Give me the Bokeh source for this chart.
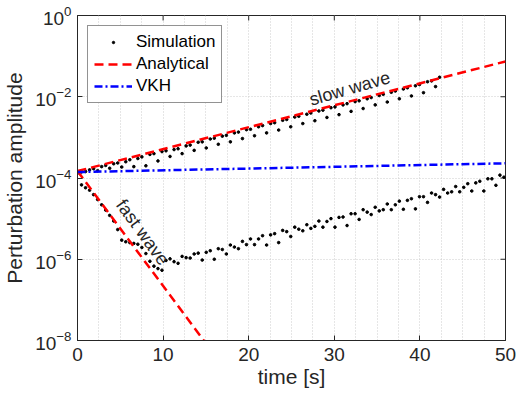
from bokeh.plotting import figure
from bokeh.models import Range1d, FixedTicker
from bokeh.core.properties import value
from bokeh.embed import file_html
from bokeh.resources import INLINE
import math

# ---------------- data ----------------
time_grid = [0.00, 0.47, 0.94, 1.41, 1.88, 2.35, 2.82, 3.29, 3.76, 4.23,
             4.70, 5.17, 5.64, 6.11, 6.58, 7.05, 7.52, 7.99, 8.46, 8.93,
             9.40, 9.87, 10.34, 10.81, 11.28, 11.75, 12.22, 12.69, 13.16, 13.63,
             14.10, 14.57, 15.04, 15.51, 15.98, 16.45, 16.92, 17.39, 17.86, 18.33,
             18.80, 19.27, 19.74, 20.21, 20.68, 21.15, 21.62, 22.09, 22.56, 23.03,
             23.50, 23.97, 24.44, 24.91, 25.38, 25.85, 26.32, 26.79, 27.26, 27.73,
             28.20, 28.67, 29.14, 29.61, 30.08, 30.55, 31.02, 31.49, 31.96, 32.43,
             32.90, 33.37, 33.84, 34.31, 34.78, 35.25, 35.72, 36.19, 36.66, 37.13,
             37.60, 38.07, 38.54, 39.01, 39.48, 39.95, 40.42, 40.89, 41.36, 41.83,
             42.30, 42.77, 43.24, 43.71, 44.18, 44.65, 45.12, 45.59, 46.06, 46.53,
             47.00, 47.47, 47.94, 48.41, 48.88, 49.35, 49.82]

# simulation, slow-wave branch (log10 of amplitude), first 91 times
sim_slow_exp = [-3.84, -3.85, -3.84, -3.80, -3.77, -3.82, -3.72, -3.69, -3.76, -3.65,
                -3.63, -3.73, -3.60, -3.55, -3.72, -3.52, -3.48, -3.70, -3.42, -3.40,
                -3.58, -3.35, -3.33, -3.47, -3.30, -3.28, -3.40, -3.21, -3.19, -3.32,
                -3.12, -3.11, -3.26, -3.04, -3.02, -3.17, -2.97, -2.95, -3.11, -2.89,
                -2.87, -3.03, -2.81, -2.80, -2.96, -2.74, -2.71, -2.89, -2.66, -2.64,
                -2.82, -2.58, -2.56, -2.74, -2.50, -2.48, -2.66, -2.43, -2.40, -2.59,
                -2.35, -2.33, -2.51, -2.27, -2.25, -2.44, -2.20, -2.17, -2.36, -2.12,
                -2.10, -2.29, -2.05, -2.02, -2.20, -1.97, -1.94, -2.13, -1.89, -1.86,
                -2.05, -1.81, -1.78, -1.98, -1.73, -1.70, -1.90, -1.63, -1.61, -1.75,
                -1.52]

# simulation, fast-wave branch (log10 of amplitude), all times
sim_fast_exp = [-3.88, -4.17, -4.24, -4.30, -4.41, -4.53, -4.66, -4.79, -4.92, -5.06,
                -5.27, -5.53, -5.57, -5.59, -5.61, -5.63, -5.71, -5.86, -6.05, -6.17,
                -6.23, -6.27, -6.03, -5.99, -6.06, -6.10, -5.93, -5.96, -5.97, -5.87,
                -5.85, -6.02, -5.83, -5.79, -6.00, -5.74, -5.76, -5.87, -5.65, -5.70,
                -5.74, -5.56, -5.64, -5.50, -5.64, -5.50, -5.42, -5.65, -5.40, -5.37,
                -5.59, -5.29, -5.32, -5.44, -5.21, -5.26, -5.30, -5.15, -5.24, -5.19,
                -5.06, -5.21, -5.07, -5.00, -5.21, -4.97, -4.96, -5.17, -4.88, -4.88,
                -5.02, -4.78, -4.84, -4.90, -4.72, -4.81, -4.78, -4.64, -4.78, -4.66,
                -4.57, -4.77, -4.55, -4.51, -4.76, -4.46, -4.46, -4.60, -4.37, -4.41,
                -4.47, -4.28, -4.37, -4.34, -4.21, -4.34, -4.23, -4.14, -4.32, -4.12,
                -4.08, -4.32, -4.02, -4.02, -4.18, -3.93, -3.98]

analytic_slow_t = [0, 50]
analytic_slow_y = [1.48e-4, 7.4e-2]
analytic_fast_t = [0, 15]
analytic_fast_y = [1.48e-4, 8.5e-9]
vkh_t = [0, 50]
vkh_y = [1.40e-4, 2.30e-4]

x_ticks = [0, 10, 20, 30, 40, 50]
x_minor = [2.5, 5, 7.5, 12.5, 15, 17.5, 22.5, 25, 27.5, 32.5, 35, 37.5, 42.5, 45, 47.5]
y_ticks = [1e-8, 1e-6, 1e-4, 1e-2, 1e0]

slow_label = ("slow wave", 31.8, 1.6e-2, 16)
fast_label = ("fast wave", 7.6, 4.6e-6, -54)

# ---------------- figure ----------------
FONT = "Liberation Sans"
AX = "#262626"

sim_t = time_grid[:len(sim_slow_exp)] + time_grid[:len(sim_fast_exp)]
sim_y = [10 ** e for e in sim_slow_exp] + [10 ** e for e in sim_fast_exp]

p = figure(width=516, height=400, y_axis_type="log",
           x_range=Range1d(0, 50), y_range=Range1d(1e-8, 1),
           output_backend="svg", toolbar_location=None,
           min_border_left=77, min_border_right=11, min_border_top=15,
           min_border_bottom=60)
p.background_fill_color = "white"
p.outline_line_color = AX
p.outline_line_width = 1

# grid
p.xgrid.grid_line_color = "#cccccc"
p.xgrid.grid_line_dash = "1 2"
p.xgrid.minor_grid_line_color = "#cccccc"
p.xgrid.minor_grid_line_dash = "1 2"
p.ygrid.grid_line_color = "#cccccc"
p.ygrid.grid_line_dash = "1 2"
p.ygrid.minor_grid_line_color = None

# tick marks on the top and right frame edges (box on)
p.ray(x=x_ticks, y=[y_ticks[-1]] * len(x_ticks), length=5, length_units="screen",
      angle=-math.pi / 2, line_color=AX, line_width=1)
p.ray(x=[x_ticks[-1]] * len(y_ticks), y=y_ticks, length=5, length_units="screen",
      angle=math.pi, line_color=AX, line_width=1)

p.scatter(sim_t, sim_y, marker="circle", size=2.6, color="black",
          legend_label="Simulation")
p.line(analytic_slow_t, analytic_slow_y, color="#ff0000", line_width=2.5,
       line_dash="9 5", legend_label="Analytical")
p.line(analytic_fast_t, analytic_fast_y, color="#ff0000", line_width=2.5,
       line_dash="9 5")
p.line(vkh_t, vkh_y, color="#0000ff", line_width=2.5, line_dash="8 3 2 3",
       legend_label="VKH")

for (txt, tx, ty, ang) in (slow_label, fast_label):
    p.text(x=[tx], y=[ty], text=[txt], angle=math.radians(ang),
           text_font=value(FONT), text_font_size="18px", text_color=AX,
           text_align="center", text_baseline="middle")

# axes
xax = p.xaxis[0]
yax = p.yaxis[0]
xax.ticker = FixedTicker(ticks=x_ticks, minor_ticks=x_minor)
yax.ticker = FixedTicker(ticks=y_ticks)
for ax in (xax, yax):
    ax.axis_line_color = AX
    ax.major_tick_line_color = AX
    ax.major_tick_in = 5
    ax.major_tick_out = 0
    ax.minor_tick_in = 0
    ax.minor_tick_out = 0
    ax.major_label_text_font = FONT
    ax.major_label_text_font_size = "19px"
    ax.major_label_text_color = AX
    ax.axis_label_text_font = FONT
    ax.axis_label_text_font_size = "21px"
    ax.axis_label_text_font_style = "normal"
    ax.axis_label_text_color = AX
xax.axis_label = "time [s]"
yax.axis_label = "Perturbation amplitude"
xax.major_label_standoff = 7
yax.major_label_standoff = 6
xax.axis_label_standoff = 1
yax.axis_label_standoff = 6

# legend
lg = p.legend[0]
lg.location = "top_left"
lg.margin = 10
lg.padding = 6
lg.spacing = 2
lg.glyph_width = 38
lg.glyph_height = 6
lg.label_height = 20
lg.label_standoff = 4
lg.label_text_font = FONT
lg.label_text_font_size = "17px"
lg.label_text_color = "black"
lg.border_line_color = AX
lg.border_line_width = 1
lg.background_fill_alpha = 1

open("out.html", "w").write(file_html(p, INLINE))
